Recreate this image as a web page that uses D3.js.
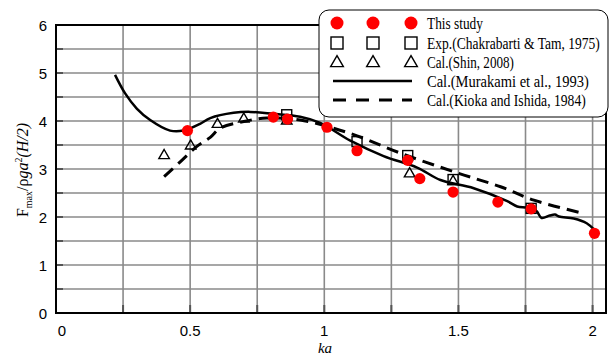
<!DOCTYPE html>
<html>
<head>
<meta charset="utf-8">
<script src="https://cdn.jsdelivr.net/npm/d3@7"></script>
<style>
  body { margin: 0; background: #fff; }
  svg { display: block; }
</style>
</head>
<body>
<figure id="chart" style="margin:0"></figure>
<script>
// This study (red dots)
const studyKa = [0.49, 0.81, 0.863, 1.01, 1.122, 1.311, 1.356, 1.48, 1.647, 1.771, 2.007];
const studyF  = [3.80, 4.08, 4.04, 3.87, 3.38, 3.18, 2.80, 2.52, 2.31, 2.17, 1.66];

// Exp. (Chakrabarti & Tam, 1975)
const expKa = [0.86, 1.122, 1.311, 1.48, 1.771];
const expF  = [4.13, 3.57, 3.28, 2.78, 2.18];

// Cal. (Shin, 2008)
const shinKa = [0.403, 0.502, 0.602, 0.70, 0.86, 1.318, 1.48];
const shinF  = [3.28, 3.48, 3.93, 4.04, 4.00, 2.90, 2.74];

// Cal. (Murakami et al., 1993)
const muraKa = [0.22, 0.257, 0.301, 0.351, 0.425, 0.475, 0.537, 0.575, 0.662, 0.724, 0.81, 0.91, 0.985,
  1.097, 1.221, 1.346, 1.433, 1.557, 1.682, 1.719, 1.756, 1.79, 1.81, 1.84, 1.86, 1.875, 1.93, 1.978, 2.005];
const muraF  = [4.96, 4.58, 4.26, 4.02, 3.80, 3.80, 3.94, 4.06, 4.17, 4.19, 4.15, 4.09, 3.96,
  3.59, 3.27, 3.03, 2.77, 2.60, 2.33, 2.22, 2.19, 2.13, 1.98, 2.03, 2.05, 2.01, 1.97, 1.87, 1.74];

// Cal. (Kioka and Ishida, 1984)
const kiokaKa = [0.403, 0.463, 0.525, 0.575, 0.612, 0.70, 0.786, 0.91, 1.097, 1.284, 1.495, 1.657, 1.781, 1.962];
const kiokaF  = [2.84, 3.15, 3.47, 3.66, 3.85, 3.99, 4.06, 4.02, 3.74, 3.33, 2.92, 2.63, 2.35, 2.08];

const xTicks = [0, 0.5, 1, 1.5, 2];
const yTicks = [0, 1, 2, 3, 4, 5, 6];

const legendNames = ["This study", "Exp.(Chakrabarti & Tam, 1975)", "Cal.(Shin, 2008)",
  "Cal.(Murakami et al., 1993)", "Cal.(Kioka and Ishida, 1984)"];
const legendWidths = [56, 173, 87, 162, 159];

const W = 613, H = 355;
const pLeft = 56, pRight = 606, pTop = 25, pBottom = 313;

const svg = d3.select("#chart").append("svg")
  .attr("width", W).attr("height", H);

const x = d3.scaleLinear().domain([0, 2.05]).range([pLeft, pRight]);
const y = d3.scaleLinear().domain([0, 6]).range([pBottom, pTop]);

// grid
svg.append("g").selectAll("line")
  .data(d3.range(0.25, 2.01, 0.25))
  .enter().append("line")
  .attr("x1", d => x(d)).attr("x2", d => x(d))
  .attr("y1", pTop).attr("y2", pBottom)
  .attr("stroke", "#8a8a8a").attr("stroke-width", 1.6);

svg.append("g").selectAll("line")
  .data(d3.range(0.5, 6, 0.5))
  .enter().append("line")
  .attr("x1", pLeft).attr("x2", pRight)
  .attr("y1", d => y(d)).attr("y2", d => y(d))
  .attr("stroke", "#8a8a8a").attr("stroke-width", 1.6);

// inner ticks
svg.append("g").selectAll("line")
  .data(d3.range(0.5, 6, 0.5))
  .enter().append("line")
  .attr("x1", pLeft).attr("x2", pLeft + 7)
  .attr("y1", d => y(d)).attr("y2", d => y(d))
  .attr("stroke", "#555").attr("stroke-width", 2);

svg.append("g").selectAll("line")
  .data(d3.range(0.25, 2.01, 0.25))
  .enter().append("line")
  .attr("x1", d => x(d)).attr("x2", d => x(d))
  .attr("y1", pBottom).attr("y2", pBottom - 8)
  .attr("stroke", "#555").attr("stroke-width", 2);

// frame
svg.append("rect")
  .attr("x", pLeft).attr("y", pTop)
  .attr("width", pRight - pLeft).attr("height", pBottom - pTop)
  .attr("fill", "none").attr("stroke", "#000").attr("stroke-width", 2);

// tick labels
svg.append("g").selectAll("text")
  .data(yTicks).enter().append("text")
  .attr("x", 47).attr("y", d => y(d) + 5.5)
  .attr("text-anchor", "end")
  .style("font", "15px 'Liberation Sans', Arial, sans-serif")
  .text(d => d);

svg.append("g").selectAll("text")
  .data(xTicks).enter().append("text")
  .attr("x", d => x(d) + (d === 0 ? 6 : 0)).attr("y", 336)
  .attr("text-anchor", "middle")
  .style("font", "15px 'Liberation Sans', Arial, sans-serif")
  .text(d => d);

// axis titles
svg.append("text")
  .attr("x", 325).attr("y", 353)
  .attr("text-anchor", "middle")
  .style("font", "italic 15px 'Liberation Serif', 'Times New Roman', serif")
  .text("ka");

const yl = svg.append("text")
  .attr("transform", "translate(28,170) rotate(-90)")
  .attr("text-anchor", "middle")
  .style("font", "16px 'Liberation Serif', 'Times New Roman', serif");
yl.append("tspan").text("F");
yl.append("tspan").attr("dy", 4).style("font-size", "10px").text("max");
yl.append("tspan").attr("dy", -4).text("/ρ");
yl.append("tspan").style("font-style", "italic").text("ga");
yl.append("tspan").attr("dy", -6).style("font-size", "10px").text("2");
yl.append("tspan").attr("dy", 6).style("font-style", "italic").text("(H/2)");

// lines
const line = d3.line().x(d => x(d[0])).y(d => y(d[1])).curve(d3.curveCatmullRom.alpha(0.5));

svg.append("path")
  .datum(d3.zip(muraKa, muraF))
  .attr("d", line)
  .attr("fill", "none").attr("stroke", "#000").attr("stroke-width", 2.5);

svg.append("path")
  .datum(d3.zip(kiokaKa, kiokaF))
  .attr("d", line)
  .attr("fill", "none").attr("stroke", "#000").attr("stroke-width", 3)
  .attr("stroke-dasharray", "12,7");

// symbols
const tri = d3.symbol().type(d3.symbolTriangle).size(48);

svg.append("g").selectAll("path")
  .data(d3.zip(shinKa, shinF)).enter().append("path")
  .attr("d", tri)
  .attr("transform", d => `translate(${x(d[0])},${y(d[1])})`)
  .attr("fill", "none").attr("stroke", "#000").attr("stroke-width", 1.4);

svg.append("g").selectAll("rect")
  .data(d3.zip(expKa, expF)).enter().append("rect")
  .attr("x", d => x(d[0]) - 5).attr("y", d => y(d[1]) - 5)
  .attr("width", 10).attr("height", 10)
  .attr("fill", "none").attr("stroke", "#000").attr("stroke-width", 1.4);

svg.append("g").selectAll("circle")
  .data(d3.zip(studyKa, studyF)).enter().append("circle")
  .attr("cx", d => x(d[0])).attr("cy", d => y(d[1]))
  .attr("r", 5.6).attr("fill", "#ff0000");

// legend
const lg = svg.append("g");
lg.append("rect")
  .attr("x", 319).attr("y", 10).attr("width", 289).attr("height", 107).attr("rx", 10)
  .attr("fill", "#fff").attr("stroke", "#000").attr("stroke-width", 1);

const rowY = [23, 43, 62, 81, 100];
const mx = [337, 373, 411];

mx.forEach(cx => {
  lg.append("circle").attr("cx", cx).attr("cy", rowY[0]).attr("r", 6.5).attr("fill", "#ff0000");
  lg.append("rect").attr("x", cx - 6).attr("y", rowY[1] - 6).attr("width", 12).attr("height", 12)
    .attr("fill", "none").attr("stroke", "#000").attr("stroke-width", 1.4);
  lg.append("path").attr("d", d3.symbol().type(d3.symbolTriangle).size(70))
    .attr("transform", `translate(${cx},${rowY[2] + 1})`)
    .attr("fill", "none").attr("stroke", "#000").attr("stroke-width", 1.4);
});
lg.append("line").attr("x1", 333).attr("x2", 412).attr("y1", rowY[3]).attr("y2", rowY[3])
  .attr("stroke", "#000").attr("stroke-width", 2.5);
lg.append("line").attr("x1", 333).attr("x2", 412).attr("y1", rowY[4]).attr("y2", rowY[4])
  .attr("stroke", "#000").attr("stroke-width", 3).attr("stroke-dasharray", "13,10");

// condensed serif labels: squeeze each one horizontally to the width in the picture
lg.selectAll("text.name")
  .data(legendNames).enter().append("text")
  .attr("class", "name")
  .style("font", "16px 'Liberation Serif', 'Times New Roman', serif")
  .text(d => d)
  .attr("transform", function (d, i) {
    const k = legendWidths[i] / this.getComputedTextLength();
    return `translate(427,${rowY[i] + 6}) scale(${k},1)`;
  });
</script>
</body>
</html>
